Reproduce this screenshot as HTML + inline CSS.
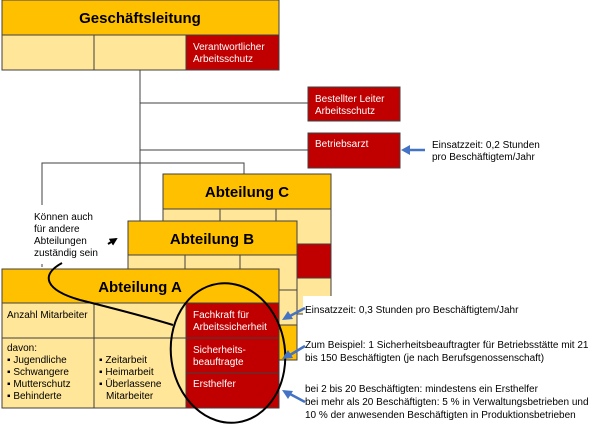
<!DOCTYPE html>
<html><head><meta charset="utf-8"><style>
html,body{margin:0;padding:0;background:#fff;width:600px;height:427px;overflow:hidden}
svg{display:block}
text{font-family:"Liberation Sans",sans-serif}
</style></head><body>
<svg width="600" height="427" viewBox="0 0 600 427" xmlns="http://www.w3.org/2000/svg">
<defs><marker id="bk" markerWidth="4" markerHeight="4" refX="3" refY="2" orient="auto" markerUnits="strokeWidth"><path d="M0,0 L4,2 L0,4 z" fill="#000"/></marker></defs>
<g stroke="#404040" stroke-width="1">
<line x1="140" y1="70" x2="140" y2="270"/>
<line x1="140" y1="103" x2="308" y2="103"/>
<line x1="140" y1="150" x2="308" y2="150"/>
<polyline points="42,205 42,163 244,163 244,176" fill="none"/>
<line x1="42" y1="264" x2="42" y2="270" stroke-dasharray="3,3"/>
<rect x="2" y="0" width="277" height="35" fill="#FFC000"/>
<rect x="2" y="35" width="92" height="35" fill="#FFE699"/>
<rect x="94" y="35" width="92" height="35" fill="#FFE699"/>
<rect x="186" y="35" width="93" height="35" fill="#C00000"/>
<rect x="308" y="87" width="92" height="34" fill="#C00000"/>
<rect x="308" y="133" width="92" height="35" fill="#C00000"/>
<rect x="163" y="174" width="168" height="140" fill="#FFE699"/>
<rect x="163" y="174" width="168" height="35" fill="#FFC000"/>
<line x1="220" y1="209" x2="220" y2="244"/><line x1="276" y1="209" x2="276" y2="244"/>
<line x1="163" y1="244" x2="331" y2="244"/>
<rect x="297" y="244" width="34" height="34" fill="#C00000"/>
<line x1="297" y1="278" x2="331" y2="278"/>
<rect x="128" y="221" width="169" height="139" fill="#FFE699"/>
<rect x="128" y="221" width="169" height="34" fill="#FFC000"/>
<line x1="185" y1="255" x2="185" y2="290"/><line x1="240" y1="255" x2="240" y2="290"/>
<line x1="128" y1="290" x2="297" y2="290"/>
<rect x="279" y="325" width="18" height="35" fill="#FFC000"/>
<line x1="279" y1="325" x2="297" y2="325"/>
<rect x="2" y="269" width="277" height="34" fill="#FFC000"/>
<rect x="2" y="303" width="92" height="35" fill="#FFE699"/>
<rect x="94" y="303" width="92" height="35" fill="#FFE699"/>
<rect x="2" y="338" width="92" height="70" fill="#FFE699"/>
<rect x="94" y="338" width="92" height="70" fill="#FFE699"/>
<rect x="186" y="303" width="93" height="35" fill="#C00000"/>
<rect x="186" y="338" width="93" height="35" fill="#C00000"/>
<rect x="186" y="373" width="93" height="35" fill="#C00000"/>
</g>
<rect x="303" y="300" width="297" height="127" fill="#fff"/>
<rect x="303" y="296" width="240" height="14" fill="#fff"/>
<ellipse cx="228" cy="353" rx="57" ry="70" fill="none" stroke="#000" stroke-width="2" transform="rotate(-8 228 353)"/>
<path d="M62,263 C40,275 45,290 80,300 C120,310 150,318 173,325" fill="none" stroke="#000" stroke-width="2"/>
<line x1="108" y1="244" x2="116" y2="239" stroke="#000" stroke-width="2" marker-end="url(#bk)"/>
<g stroke="#4472C4" stroke-width="2.5" fill="#4472C4">
<line x1="425" y1="150" x2="408" y2="150"/><path d="M401,150 L410,145 L410,155 z" stroke="none"/>
<line x1="305" y1="308" x2="290" y2="316"/><path d="M282,320 L288,311 L293,319 z" stroke="none"/>
<line x1="305" y1="346" x2="290" y2="355"/><path d="M282,359 L288,350 L293,358 z" stroke="none"/>
<line x1="305" y1="402" x2="290" y2="394"/><path d="M282,390 L293,391 L288,399 z" stroke="none"/>
</g>
<g font-weight="bold" font-size="15" text-anchor="middle" fill="#000">
<text x="140" y="23">Geschäftsleitung</text>
<text x="247" y="197">Abteilung C</text>
<text x="212" y="244">Abteilung B</text>
<text x="140" y="292">Abteilung A</text>
</g>
<g font-size="10" fill="#fff">
<text x="193" y="50">Verantwortlicher</text><text x="193" y="62">Arbeitsschutz</text>
<text x="315" y="102">Bestellter Leiter</text><text x="315" y="114">Arbeitsschutz</text>
<text x="315" y="147">Betriebsarzt</text>
<text x="193" y="318">Fachkraft für</text><text x="193" y="330">Arbeitssicherheit</text>
<text x="193" y="353">Sicherheits-</text><text x="193" y="365">beauftragte</text>
<text x="193" y="387">Ersthelfer</text>
</g>
<g font-size="10" fill="#000">
<text x="432" y="148">Einsatzzeit: 0,2 Stunden</text><text x="432" y="160">pro Beschäftigtem/Jahr</text>
<text x="34" y="220">Können auch</text><text x="34" y="232">für andere</text><text x="34" y="244">Abteilungen</text><text x="34" y="256">zuständig sein</text>
<text x="7" y="318">Anzahl Mitarbeiter</text>
<text x="7" y="351">davon:</text>
<text x="7" y="363">▪ Jugendliche</text><text x="7" y="375">▪ Schwangere</text><text x="7" y="387">▪ Mutterschutz</text><text x="7" y="399">▪ Behinderte</text>
<text x="99" y="363">▪ Zeitarbeit</text><text x="99" y="375">▪ Heimarbeit</text><text x="99" y="387">▪ Überlassene</text><text x="106" y="399">Mitarbeiter</text>
<text x="305" y="313">Einsatzzeit: 0,3 Stunden pro Beschäftigtem/Jahr</text>
<text x="305" y="348">Zum Beispiel: 1 Sicherheitsbeauftragter  für Betriebsstätte mit 21</text>
<text x="305" y="361">bis 150 Beschäftigten (je nach Berufsgenossenschaft)</text>
<text x="305" y="392">bei 2 bis 20 Beschäftigten: mindestens ein Ersthelfer</text>
<text x="305" y="405">bei mehr als 20 Beschäftigten: 5 % in Verwaltungsbetrieben  und</text>
<text x="305" y="418">10 % der anwesenden Beschäftigten in Produktionsbetrieben</text>
</g>
</svg>
</body></html>
